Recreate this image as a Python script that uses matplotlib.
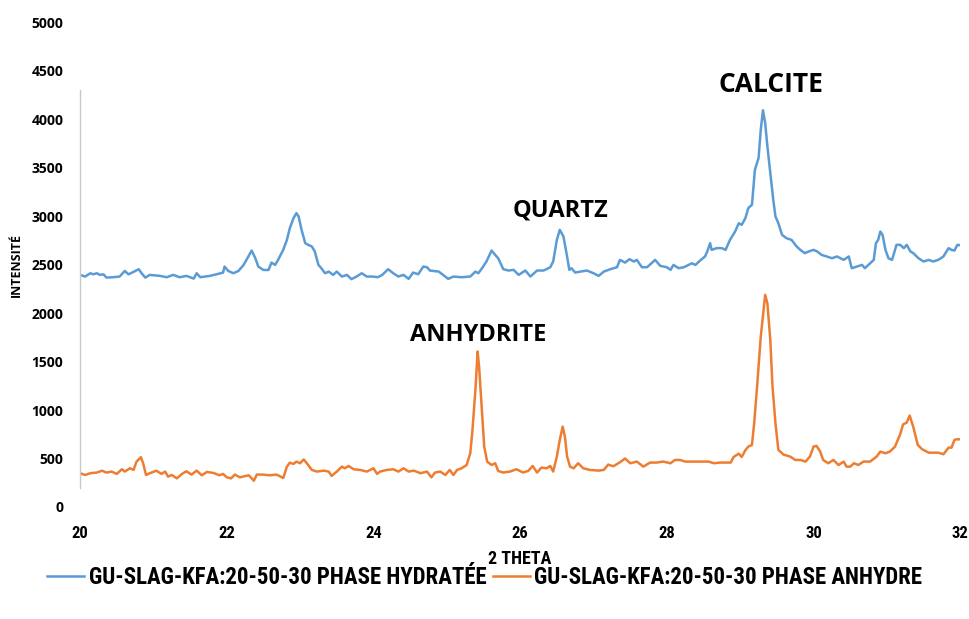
import matplotlib
matplotlib.use("Agg")
import matplotlib.pyplot as plt
from matplotlib import font_manager

# 2-theta positions and intensities
theta_hyd = [20.00, 20.07, 20.14, 20.18, 20.23, 20.27, 20.32, 20.36, 20.45, 20.54, 20.61, 20.66, 20.73, 20.80,
             20.84, 20.89, 20.95, 21.09, 21.18, 21.27, 21.36, 21.45, 21.55, 21.59, 21.64, 21.77, 21.86, 21.95,
             21.97, 22.02, 22.09, 22.16, 22.23, 22.30, 22.34, 22.39, 22.43, 22.50, 22.57, 22.61, 22.66, 22.70,
             22.77, 22.82, 22.86, 22.91, 22.95, 22.98, 23.02, 23.07, 23.11, 23.16, 23.20, 23.25, 23.29, 23.34,
             23.39, 23.45, 23.50, 23.57, 23.64, 23.70, 23.77, 23.84, 23.91, 23.99, 24.06, 24.12, 24.20, 24.27,
             24.34, 24.41, 24.48, 24.54, 24.61, 24.68, 24.73, 24.77, 24.89, 24.95, 25.02, 25.09, 25.20, 25.32,
             25.39, 25.43, 25.48, 25.54, 25.61, 25.66, 25.70, 25.77, 25.84, 25.91, 25.98, 26.07, 26.14, 26.23,
             26.32, 26.41, 26.45, 26.50, 26.54, 26.59, 26.64, 26.67, 26.70, 26.75, 26.82, 26.91, 27.00, 27.07,
             27.14, 27.23, 27.32, 27.36, 27.43, 27.49, 27.55, 27.59, 27.66, 27.73, 27.84, 27.91, 28.00, 28.05,
             28.09, 28.16, 28.23, 28.27, 28.34, 28.39, 28.45, 28.52, 28.55, 28.59, 28.61, 28.68, 28.75, 28.80,
             28.86, 28.93, 28.98, 29.02, 29.07, 29.11, 29.16, 29.20, 29.25, 29.28, 29.31, 29.34, 29.37, 29.41,
             29.45, 29.48, 29.52, 29.57, 29.63, 29.70, 29.77, 29.82, 29.88, 29.93, 30.00, 30.05, 30.11, 30.18,
             30.25, 30.32, 30.41, 30.48, 30.52, 30.59, 30.66, 30.70, 30.77, 30.82, 30.85, 30.88, 30.91, 30.94,
             30.98, 31.02, 31.07, 31.13, 31.18, 31.23, 31.27, 31.32, 31.36, 31.43, 31.50, 31.57, 31.63, 31.70,
             31.77, 31.84, 31.88, 31.92, 31.96, 32.00]
int_hyd = [2394, 2377, 2411, 2400, 2411, 2394, 2400, 2366, 2370, 2377, 2435, 2400, 2425, 2453,
           2411, 2366, 2394, 2384, 2370, 2394, 2370, 2384, 2356, 2411, 2370, 2384, 2400, 2418,
           2480, 2435, 2411, 2435, 2497, 2590, 2645, 2566, 2480, 2445, 2445, 2521, 2497, 2549,
           2652, 2755, 2876, 2979, 3031, 2997, 2859, 2721, 2704, 2687, 2636, 2497, 2463, 2411,
           2428, 2394, 2428, 2377, 2394, 2350, 2377, 2411, 2377, 2377, 2370, 2394, 2453, 2411,
           2377, 2394, 2353, 2418, 2401, 2480, 2473, 2439, 2428, 2394, 2353, 2377, 2370, 2377,
           2428, 2411, 2463, 2532, 2645, 2600, 2566, 2453, 2439, 2446, 2394, 2439, 2377, 2439,
           2439, 2473, 2532, 2755, 2859, 2790, 2583, 2446, 2463, 2418, 2428, 2439, 2411, 2384,
           2428, 2453, 2473, 2549, 2521, 2556, 2532, 2549, 2473, 2473, 2549, 2487, 2473, 2446,
           2497, 2463, 2473, 2487, 2514, 2497, 2540, 2584, 2635, 2721, 2652, 2670, 2670, 2652,
           2755, 2841, 2927, 2910, 2979, 3083, 3118, 3479, 3600, 3893, 4092, 3962, 3721, 3445,
           3170, 2997, 2927, 2807, 2773, 2755, 2686, 2652, 2618, 2635, 2652, 2635, 2600, 2584,
           2566, 2584, 2549, 2584, 2463, 2480, 2497, 2463, 2514, 2549, 2721, 2755, 2841, 2807,
           2652, 2566, 2549, 2704, 2704, 2670, 2704, 2636, 2618, 2566, 2532, 2549, 2532, 2549,
           2584, 2670, 2652, 2645, 2704, 2700]

theta_anh = [20.00, 20.07, 20.14, 20.23, 20.30, 20.36, 20.43, 20.50, 20.57, 20.61, 20.68, 20.73, 20.77, 20.83,
             20.86, 20.90, 20.95, 21.04, 21.11, 21.16, 21.20, 21.25, 21.32, 21.39, 21.45, 21.52, 21.59, 21.66,
             21.73, 21.82, 21.90, 21.95, 22.00, 22.06, 22.11, 22.18, 22.30, 22.37, 22.41, 22.48, 22.59, 22.68,
             22.77, 22.82, 22.86, 22.91, 22.95, 23.00, 23.05, 23.11, 23.16, 23.23, 23.32, 23.39, 23.43, 23.50,
             23.57, 23.61, 23.66, 23.73, 23.82, 23.91, 24.00, 24.05, 24.09, 24.18, 24.27, 24.34, 24.41, 24.48,
             24.55, 24.64, 24.73, 24.79, 24.84, 24.91, 24.98, 25.04, 25.09, 25.14, 25.20, 25.27, 25.32, 25.35,
             25.39, 25.42, 25.44, 25.48, 25.51, 25.55, 25.61, 25.66, 25.70, 25.77, 25.86, 25.95, 26.04, 26.11,
             26.17, 26.23, 26.29, 26.36, 26.41, 26.45, 26.50, 26.54, 26.58, 26.61, 26.64, 26.68, 26.73, 26.79,
             26.86, 26.95, 27.07, 27.14, 27.20, 27.27, 27.36, 27.43, 27.50, 27.59, 27.68, 27.77, 27.86, 27.95,
             28.05, 28.11, 28.18, 28.25, 28.32, 28.45, 28.57, 28.64, 28.73, 28.82, 28.87, 28.91, 28.98, 29.02,
             29.07, 29.11, 29.16, 29.19, 29.23, 29.28, 29.34, 29.37, 29.41, 29.44, 29.48, 29.52, 29.59, 29.68,
             29.75, 29.82, 29.89, 29.95, 30.00, 30.04, 30.09, 30.13, 30.20, 30.27, 30.34, 30.41, 30.45, 30.50,
             30.55, 30.61, 30.68, 30.77, 30.86, 30.91, 30.98, 31.04, 31.11, 31.18, 31.22, 31.27, 31.31, 31.36,
             31.42, 31.48, 31.57, 31.64, 31.70, 31.77, 31.84, 31.88, 31.92, 31.95, 32.00]
int_anh = [348, 330, 348, 355, 374, 355, 365, 341, 389, 365, 399, 382, 468, 513,
           451, 330, 348, 374, 341, 365, 313, 330, 295, 341, 368, 334, 375, 327,
           361, 351, 327, 341, 306, 295, 334, 306, 327, 271, 334, 334, 327, 334,
           299, 416, 457, 444, 468, 451, 490, 433, 382, 365, 375, 365, 320, 365,
           416, 399, 423, 389, 382, 365, 399, 341, 365, 382, 389, 365, 399, 365,
           375, 348, 365, 306, 355, 365, 330, 382, 330, 382, 399, 433, 554, 795,
           1208, 1604, 1449, 967, 623, 468, 433, 451, 372, 355, 365, 389, 355, 372,
           423, 355, 406, 399, 423, 365, 519, 691, 829, 725, 519, 416, 399, 451,
           399, 382, 375, 382, 437, 420, 461, 500, 451, 468, 416, 458, 458, 468,
           451, 485, 485, 468, 468, 468, 468, 451, 458, 458, 458, 516, 550, 516,
           585, 623, 640, 864, 1243, 1758, 2188, 2102, 1723, 1243, 864, 589, 540, 520,
           485, 485, 468, 520, 623, 630, 571, 485, 451, 485, 433, 468, 416, 416,
           451, 433, 468, 468, 520, 571, 554, 571, 623, 749, 852, 870, 943, 823,
           640, 595, 560, 560, 560, 544, 612, 612, 691, 698, 698]

series_labels = ["GU-SLAG-KFA:20-50-30 PHASE HYDRATÉE", "GU-SLAG-KFA:20-50-30 PHASE ANHYDRE"]
phase_names = ["CALCITE", "QUARTZ", "ANHYDRITE"]
phase_pos = [(29.42, 4360), (26.55, 3060), (25.43, 1770)]

# pick a narrow face for the legend / axis title if one is installed
installed = {f.name for f in font_manager.fontManager.ttflist}
narrow_name = next((n for n in ["Liberation Sans Narrow", "Arial Narrow", "DejaVu Sans Condensed",
                                "Roboto Condensed", "Open Sans Condensed"] if n in installed),
                   "Liberation Sans")
narrow = [narrow_name, "DejaVu Sans"]
wide = ["Open Sans", "DejaVu Sans"]

fig = plt.figure(figsize=(9.7, 6.19), dpi=100)
ax = fig.add_axes([0.0825, 0.181, 0.9075, 0.783])

ax.plot(theta_hyd, int_hyd, color="#5B9BD5", lw=1.8, label=series_labels[0])
ax.plot(theta_anh, int_anh, color="#ED7D31", lw=1.8, label=series_labels[1])

for name, (px, py) in zip(phase_names, phase_pos):
    size = 19 if name == "CALCITE" else 17
    ax.text(px, py, name, ha="center", va="center", fontsize=size,
            fontweight="bold", family=wide, color="black")

ax.set_xlim(20, 32)
ax.set_ylim(0, 5000)
ax.set_xticks(range(20, 33, 2))
ax.set_yticks(range(0, 5001, 500))
ax.tick_params(length=0, pad=14)
ax.tick_params(axis="y", pad=12)
for lab in ax.get_yticklabels():
    lab.set_fontweight("bold")
    lab.set_family(wide)
    lab.set_fontsize(10)
for lab in ax.get_xticklabels():
    lab.set_fontweight("bold")
    lab.set_family(narrow)
    lab.set_fontsize(12)

for side in ["top", "right", "bottom"]:
    ax.spines[side].set_visible(False)
ax.spines["left"].set_color("#c8c8c8")
ax.spines["left"].set_linewidth(1)
ax.spines["left"].set_bounds(200, 4300)

ax.set_xlabel("2 THETA", fontsize=13, fontweight="bold", family=narrow, labelpad=6)
ax.set_ylabel("INTENSITÉ", fontsize=9, fontweight="bold", family=wide, labelpad=6)

# shrink the legend font until the row fits inside the figure width
leg_size = 18
while True:
    leg = fig.legend(loc="center", bbox_to_anchor=(0.5, 41 / 619), ncol=2, frameon=False,
                     prop={"family": narrow, "weight": "bold", "size": leg_size},
                     handlelength=1.6, handletextpad=0.2, columnspacing=0.3)
    fig.canvas.draw()
    width = leg.get_window_extent().width
    if width <= 900 or leg_size <= 8:
        break
    leg.remove()
    leg_size -= 0.5

fig.savefig("out.png", dpi=100)
